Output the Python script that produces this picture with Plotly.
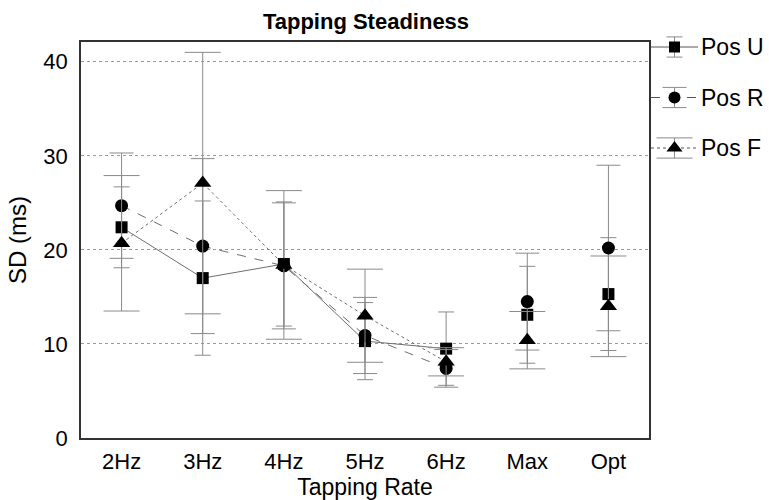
import plotly.graph_objects as go

categories = ["2Hz", "3Hz", "4Hz", "5Hz", "6Hz", "Max", "Opt"]
series_names = ["Pos U", "Pos R", "Pos F"]

pos_u = [22.4, 17.0, 18.5, 10.3, 9.5, 13.1, 15.3]
pos_u_err = [4.3, 8.2, 6.6, 4.1, 3.9, 5.15, 6.0]

pos_r = [24.7, 20.4, 18.3, 10.9, 7.4, 14.5, 20.2]
pos_r_err = [5.6, 9.3, 6.7, 4.05, 2.0, 5.15, 8.8]

pos_f = [20.7, 27.1, 18.4, 13.0, 8.1, 10.4, 14.0]
pos_f_err = [7.2, 13.9, 7.9, 4.95, 1.5, 3.05, 5.35]

y_ticks = [0, 10, 20, 30, 40]
n_connected = 5  # lines join 2Hz..6Hz only

W, H = 769, 500
ML, MR, MT, MB = 81, 2, 10, 62
PW = W - ML - MR
PH = H - MT - MB

def px_x(p):
    return (p - ML) / PW

def px_y(p):
    return (H - MB - p) / PH

FONT = "Liberation Sans, Arial, sans-serif"
LINE_C = "#6e6e6e"
ERR_C = "#8a8a8a"

styles = [
    dict(symbol="square", size=12, dash="solid", cap=8),
    dict(symbol="circle", size=13, dash="dash", cap=12),
    dict(symbol="triangle-up", size=15, dash="dot", cap=18),
]
values = [pos_u, pos_r, pos_f]
errors = [pos_u_err, pos_r_err, pos_f_err]

fig = go.Figure()

for name, vals, errs, st in zip(series_names, values, errors, styles):
    fig.add_trace(go.Scatter(
        x=categories[:n_connected], y=vals[:n_connected], mode="lines",
        line=dict(color=LINE_C, width=1, dash=st["dash"]),
        showlegend=False, hoverinfo="skip",
    ))
for name, vals, errs, st in zip(series_names, values, errors, styles):
    fig.add_trace(go.Scatter(
        x=categories, y=vals, mode="markers", name=name,
        marker=dict(symbol=st["symbol"], size=st["size"], color="black"),
        error_y=dict(type="data", array=errs, visible=True, color=ERR_C,
                     thickness=1, width=st["cap"]),
        showlegend=False,
    ))

# legend samples drawn on a small hidden axis
legend_err = [0.2, 0.2, 0.2]
for i, (name, st) in enumerate(zip(series_names, styles)):
    fig.add_trace(go.Scatter(
        x=[0, 1], y=[i, i], mode="lines", xaxis="x2", yaxis="y2",
        line=dict(color="#555", width=1, dash=st["dash"]),
        showlegend=False, hoverinfo="skip",
    ))
    fig.add_trace(go.Scatter(
        x=[0.5], y=[i], mode="markers", xaxis="x2", yaxis="y2",
        marker=dict(symbol=st["symbol"], size=st["size"] - 1, color="black"),
        error_y=dict(type="data", array=[legend_err[i]], visible=True,
                     color=ERR_C, thickness=1, width=st["cap"]),
        showlegend=False, hoverinfo="skip",
    ))
    fig.add_annotation(x=1, y=i, xref="x2", yref="y2", text=name,
                       showarrow=False, xanchor="left", xshift=1,
                       font=dict(family=FONT, size=23, color="black"))

fig.update_layout(
    width=W, height=H,
    margin=dict(l=ML, r=MR, t=MT, b=MB),
    paper_bgcolor="white", plot_bgcolor="white",
    showlegend=False,
    font=dict(family=FONT, size=20, color="black"),
    title=dict(text="<b>Tapping Steadiness</b>", x=366 / W, xref="container",
               xanchor="center", y=1 - 21 / H, yref="container", yanchor="middle",
               font=dict(family=FONT, size=22, color="black")),
    xaxis=dict(
        domain=[0, px_x(649)], type="category", range=[-0.5, 6.5],
        showline=True, linecolor="#333", linewidth=1.5, mirror=True,
        showgrid=False, ticks="", ticklabelstandoff=3,
        tickfont=dict(family=FONT, size=22),
        title=dict(text="Tapping Rate", standoff=3,
                   font=dict(family=FONT, size=23)),
        zeroline=False,
    ),
    yaxis=dict(
        domain=[0, px_y(42)], range=[0, 42.1],
        tickvals=y_ticks,
        showline=True, linecolor="#333", linewidth=1.5, mirror=True,
        showgrid=True, gridcolor="#9a9a9a", griddash="dot", gridwidth=1,
        ticks="", ticklabelstandoff=7, zeroline=False,
        tickfont=dict(family=FONT, size=22),
        title=dict(text="SD (ms)", standoff=10,
                   font=dict(family=FONT, size=24)),
    ),
    xaxis2=dict(domain=[px_x(651), px_x(698)], range=[0, 1], anchor="y2",
                visible=False, fixedrange=True),
    yaxis2=dict(domain=[px_y(173.25), px_y(21.75)], range=[2.5, -0.5],
                anchor="x2", visible=False, fixedrange=True),
)

fig.write_html("out.html")
